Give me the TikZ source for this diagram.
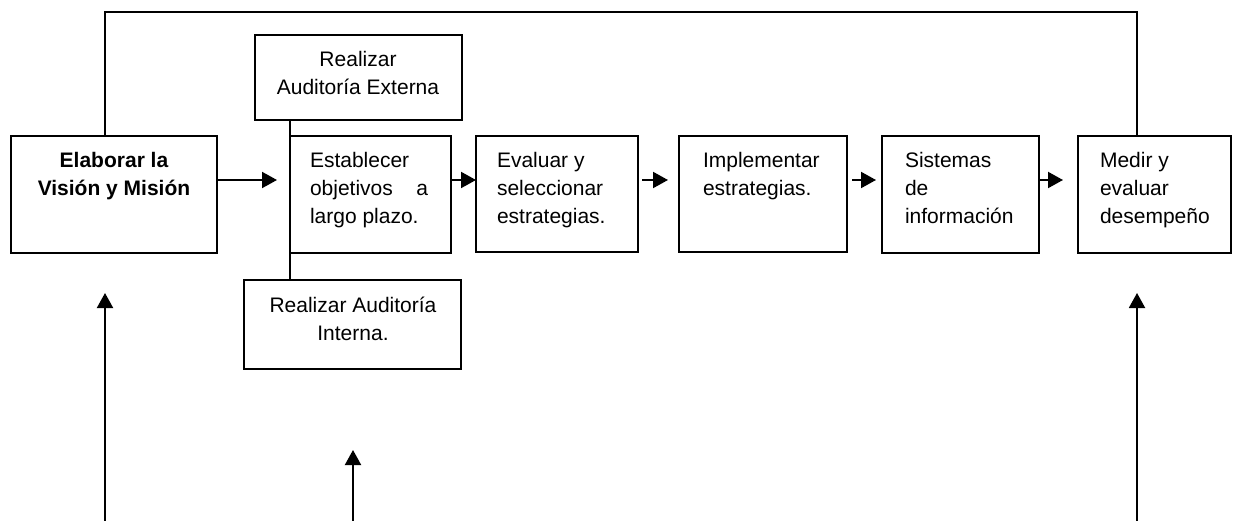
\documentclass[tikz,border=0pt]{standalone}
\usepackage{fontspec}
\setmainfont{Liberation Sans}
\usetikzlibrary{arrows.meta}
\begin{document}
\begin{tikzpicture}[x=1pt,y=-1pt,
  box/.style={draw=black, line width=2pt, rectangle, inner sep=0pt, outer sep=0pt, anchor=north west},
  txt/.style={inner sep=0pt, outer sep=0pt, font=\fontsize{21}{28}\selectfont},
  arr/.style={draw=black, line width=2pt, -{Triangle[width=16pt,length=15pt]}},
  ln/.style={draw=black, line width=2pt}]
\fill[white] (0,0) rectangle (1233,521);
\useasboundingbox (0,0) rectangle (1233,521);
% boxes
\node[box, minimum width=206pt, minimum height=117pt] (vis) at (11,136) {};
\node[box, minimum width=207pt, minimum height=85pt] (ext) at (255,35) {};
\node[box, minimum width=161pt, minimum height=117pt] (est) at (290,136) {};
\node[box, minimum width=162pt, minimum height=116pt] (eva) at (476,136) {};
\node[box, minimum width=168pt, minimum height=116pt] (imp) at (679,136) {};
\node[box, minimum width=157pt, minimum height=117pt] (sis) at (882,136) {};
\node[box, minimum width=153pt, minimum height=117pt] (med) at (1078,136) {};
\node[box, minimum width=217pt, minimum height=89pt] (int) at (244,280) {};
% texts
\node[txt, anchor=base] (vis-t) at (114,168) {\parbox[t]{200pt}{\centering\bfseries Elaborar la\\Visión y Misión}};
\node[txt, anchor=base] (ext-t) at (358,67) {\parbox[t]{200pt}{\centering Realizar\\Auditoría Externa}};
\node[txt, anchor=base west] (est-t) at (310,168) {\parbox[t]{118pt}{\raggedright Establecer\\objetivos\hfill a\\largo plazo.}};
\node[txt, anchor=base west] (eva-t) at (497,168) {\parbox[t]{140pt}{\raggedright Evaluar y\\seleccionar\\estrategias.}};
\node[txt, anchor=base west] (imp-t) at (703,168) {\parbox[t]{140pt}{\raggedright Implementar\\estrategias.}};
\node[txt, anchor=base west] (sis-t) at (905,168) {\parbox[t]{125pt}{\raggedright Sistemas\\de\\información}};
\node[txt, anchor=base west] (med-t) at (1100,168) {\parbox[t]{125pt}{\raggedright Medir y\\evaluar\\desempeño}};
\node[txt, anchor=base] (int-t) at (353,312) {\parbox[t]{210pt}{\centering Realizar Auditoría\\Interna.}};
% helper coordinates
\coordinate (ay) at (0,180);
\coordinate (fbL) at (105,12);
\coordinate (fbR) at (1137,12);
\coordinate (b1s) at (105,521);
\coordinate (b1e) at (105,293);
\coordinate (b2s) at (353,521);
\coordinate (b2e) at (353,450);
\coordinate (b3s) at (1137,521);
\coordinate (b3e) at (1137,293);
% feedback line on top
\draw[ln] (fbL |- vis.north) -- (fbL) -- (fbR) -- (fbR |- med.north);
% vertical link of audits
\draw[ln] (est.west |- ext.south) -- (est.west |- int.north);
% horizontal arrows
\draw[arr, shorten >=13pt] (vis.east |- ay) -- (est.west |- ay);
\draw[arr] (est.east |- ay) -- (eva.west |- ay);
\draw[arr, shorten <=4pt, shorten >=11pt] (eva.east |- ay) -- (imp.west |- ay);
\draw[arr, shorten <=5pt, shorten >=6pt] (imp.east |- ay) -- (sis.west |- ay);
\draw[arr, shorten >=15pt] (sis.east |- ay) -- (med.west |- ay);
% bottom arrows
\draw[arr] (b1s) -- (b1e);
\draw[arr] (b2s) -- (b2e);
\draw[arr] (b3s) -- (b3e);
\end{tikzpicture}
\end{document}
